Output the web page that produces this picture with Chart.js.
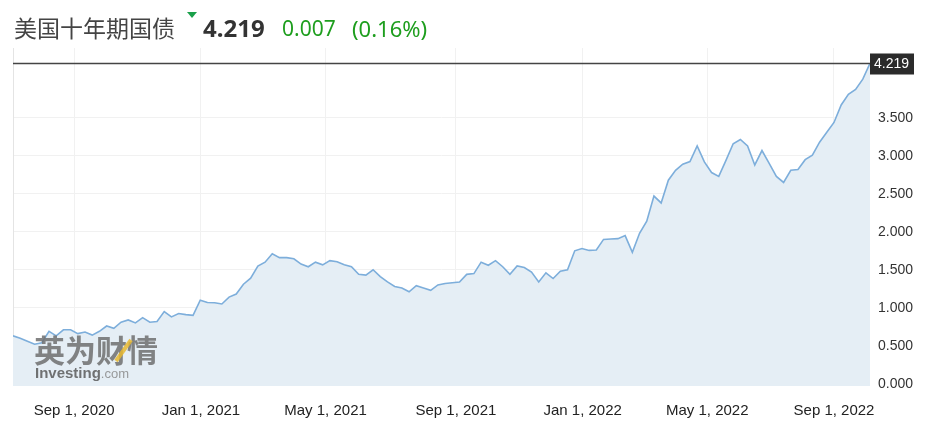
<!DOCTYPE html>
<html>
<head>
<meta charset="utf-8">
<script src="https://cdn.jsdelivr.net/npm/chart.js@4.4.1/dist/chart.umd.min.js"></script>
<style>
  html, body { margin: 0; padding: 0; background: #fff; }
  #wrap { position: relative; width: 940px; height: 434px; }
  #head { position: absolute; left: 14px; top: 8px; height: 40px; white-space: nowrap; font-family: "Noto Sans", "Noto Sans CJK SC", sans-serif; }
  #head span { position: absolute; top: 0; line-height: 40px; }
  #title { left: 0; font-family: "Noto Sans CJK SC", sans-serif; font-size: 23px; color: #444; top: -1px !important; }
  #tri { position: absolute; left: 173px; top: 4px; width: 0; height: 0; border-left: 5px solid transparent; border-right: 5px solid transparent; border-top: 6px solid #1aa04a; }
  #price { left: 189px; font-size: 24px; font-weight: bold; color: #333; }
  #chg { left: 268px; font-size: 21px; color: #1e9e1e; }
  #pct { left: 338px; font-size: 22px; color: #1e9e1e; }
</style>
</head>
<body>
<div id="wrap">
  <canvas id="chart" width="940" height="434"></canvas>
  <div id="head">
    <span id="title">美国十年期国债</span>
    <div id="tri"></div>
    <span id="price">4.219</span>
    <span id="chg">0.007</span>
    <span id="pct">(0.16%)</span>
  </div>
</div>
<script>
// Weekly closes of the US 10Y yield
const yields = [
  0.63, 0.60, 0.56, 0.52, 0.54, 0.69, 0.63, 0.71, 0.71, 0.66,
  0.68, 0.64, 0.69, 0.76, 0.73, 0.81, 0.84, 0.80, 0.87, 0.81,
  0.82, 0.95, 0.88, 0.925, 0.91, 0.90, 1.10, 1.07, 1.066, 1.05,
  1.14, 1.18, 1.31, 1.39, 1.55, 1.60, 1.71, 1.66, 1.66, 1.645,
  1.575, 1.54, 1.60, 1.565, 1.62, 1.605, 1.565, 1.54, 1.44, 1.43,
  1.50, 1.41, 1.34, 1.28, 1.26, 1.21, 1.29, 1.26, 1.23, 1.30,
  1.32, 1.33, 1.34, 1.44, 1.45, 1.60, 1.56, 1.62, 1.54, 1.44,
  1.55, 1.53, 1.47, 1.34, 1.46, 1.385, 1.48, 1.50, 1.75, 1.78,
  1.755, 1.76, 1.90, 1.905, 1.91, 1.95, 1.73, 1.98, 2.14, 2.47,
  2.38, 2.68, 2.81, 2.89, 2.925, 3.13, 2.92, 2.78, 2.73, 2.94,
  3.16, 3.215, 3.13, 2.88, 3.07, 2.90, 2.73, 2.65, 2.81, 2.82,
  2.95, 3.01, 3.18, 3.31, 3.44, 3.67, 3.81, 3.875, 4.01, 4.219
];

// date ticks and where they fall, in weeks from the first point
const dateLabels = ["Sep 1, 2020", "Jan 1, 2021", "May 1, 2021", "Sep 1, 2021", "Jan 1, 2022", "May 1, 2022", "Sep 1, 2022"];
const dateWeeks = [8.5, 26.1, 43.4, 61.5, 79.1, 96.4, 114.0];

const yTicks = [0, 0.5, 1, 1.5, 2, 2.5, 3, 3.5];
const lastValue = yields[yields.length - 1];

const points = yields.map((v, i) => ({ x: i, y: v }));

function drawWatermark(ctx) {
  ctx.save();
  ctx.globalAlpha = 0.85;
  ctx.fillStyle = "#6e6e6e";
  ctx.font = "bold 31px 'Noto Sans CJK SC'";
  ctx.textBaseline = "alphabetic";
  ctx.fillText("英为财情", 34, 362);
  ctx.strokeStyle = "#e8b830";
  ctx.lineWidth = 4;
  ctx.beginPath();
  ctx.moveTo(116, 361);
  ctx.lineTo(131, 340);
  ctx.stroke();
  ctx.fillStyle = "#5a5a5a";
  ctx.font = "bold 15px 'Liberation Sans'";
  ctx.fillText("Investing", 35, 378);
  const w = ctx.measureText("Investing").width;
  ctx.fillStyle = "#8a8a8a";
  ctx.font = "13px 'Liberation Sans'";
  ctx.fillText(".com", 35 + w, 378);
  ctx.restore();
}

const overlay = {
  id: "overlay",
  beforeDatasetsDraw(chart) {
    const { ctx, chartArea } = chart;
    ctx.save();
    ctx.strokeStyle = "#e4e4e4";
    ctx.lineWidth = 1;
    ctx.beginPath();
    ctx.moveTo(chartArea.left + 0.5, chartArea.top);
    ctx.lineTo(chartArea.left + 0.5, chartArea.bottom);
    ctx.stroke();
    ctx.restore();
  },
  afterDatasetsDraw(chart) {
    const { ctx, chartArea, scales } = chart;
    drawWatermark(ctx);
    const y = Math.round(scales.y.getPixelForValue(lastValue)) + 0.5;
    ctx.save();
    ctx.strokeStyle = "#444";
    ctx.lineWidth = 1.5;
    ctx.beginPath();
    ctx.moveTo(chartArea.left, y);
    ctx.lineTo(chartArea.right, y);
    ctx.stroke();
    ctx.fillStyle = "#2b2b2b";
    ctx.fillRect(chartArea.right, y - 10, 44, 21);
    ctx.fillStyle = "#fff";
    ctx.font = "14px 'Liberation Sans'";
    ctx.textBaseline = "middle";
    ctx.fillText(lastValue.toFixed(3), chartArea.right + 4, y + 1);
    ctx.restore();
  }
};

new Chart(document.getElementById("chart"), {
  type: "line",
  data: {
    datasets: [{
      data: points,
      borderColor: "#7daedb",
      borderWidth: 1.6,
      backgroundColor: "#e5eef5",
      fill: "start",
      pointRadius: 0,
      tension: 0
    }]
  },
  options: {
    responsive: false,
    animation: false,
    layout: { padding: { left: 13, top: 48, right: 0, bottom: 0 } },
    plugins: { legend: { display: false }, tooltip: { enabled: false } },
    scales: {
      x: {
        type: "linear",
        min: 0,
        max: yields.length - 1,
        afterBuildTicks: s => { s.ticks = dateWeeks.map(v => ({ value: v })); },
        afterFit: s => { s.height = 48; },
        grid: { color: "#f1f1f1", drawTicks: false },
        border: { display: false },
        ticks: {
          padding: 16,
          color: "#222",
          font: { family: "Liberation Sans", size: 15 },
          maxRotation: 0,
          autoSkip: false,
          callback: (v, i) => dateLabels[i]
        }
      },
      y: {
        position: "right",
        min: -0.03,
        max: 4.42,
        afterBuildTicks: s => { s.ticks = yTicks.map(v => ({ value: v })); },
        afterFit: s => { s.width = 70; },
        grid: { color: "#f1f1f1", drawTicks: false },
        border: { display: false },
        ticks: {
          padding: 8,
          color: "#333",
          font: { family: "Liberation Sans", size: 14 },
          callback: v => v.toFixed(3)
        }
      }
    }
  },
  plugins: [overlay]
});
</script>
</body>
</html>
